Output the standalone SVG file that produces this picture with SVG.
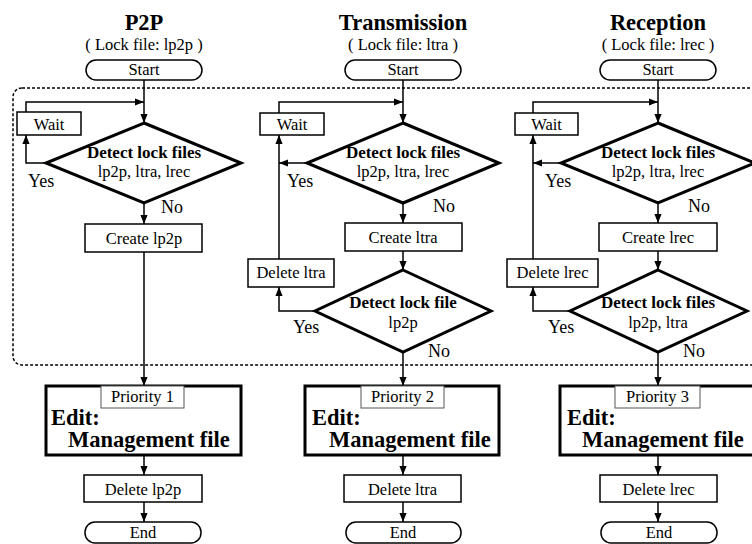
<svg xmlns="http://www.w3.org/2000/svg" width="752" height="544" viewBox="0 0 752 544" font-family="'Liberation Serif', 'Times New Roman', serif">
  <style>
    text { font-family: 'Liberation Serif', 'Times New Roman', serif; fill: #000; }
    .title { font-size: 22.5px; font-weight: bold; text-anchor: middle; }
    .sub { font-size: 16.5px; text-anchor: middle; }
    .lbl { font-size: 16.5px; text-anchor: middle; }
    .dt { font-size: 17px; font-weight: bold; text-anchor: middle; }
    .yn { font-size: 18px; }
    .big { font-size: 22.5px; font-weight: bold; }
    .term { fill: #fff; stroke: #000; stroke-width: 1.5; }
    .box { fill: #fff; stroke: #000; stroke-width: 1.5; }
    .dia { fill: #fff; stroke: #000; stroke-width: 3; stroke-linejoin: miter; }
    .edit { fill: #fff; stroke: #000; stroke-width: 3; }
    .prio { fill: #fff; stroke: #555; stroke-width: 1; }
    .conn path { fill: none; stroke: #000; stroke-width: 1.5; }
    .arr { marker-end: url(#arrow); }
  </style>
  <defs>
    <marker id="arrow" viewBox="0 0 10 8" refX="10" refY="4" markerWidth="9" markerHeight="8" markerUnits="userSpaceOnUse" orient="auto">
      <path d="M0,0 L10,4 L0,8 z" fill="#000"/>
    </marker>
  </defs>
  <rect width="752" height="544" fill="#fff"/>

  <!-- shared locking region -->
  <rect id="lock-region" x="13" y="88" width="800" height="277" rx="9" fill="none" stroke="#000" stroke-width="1.5" stroke-dasharray="3,2"/>

  <!-- column headings -->
  <g id="headings">
    <text class="title" x="144" y="30">P2P</text>
    <text class="sub" x="144" y="50">( Lock file: lp2p )</text>
    <text class="title" x="403" y="30">Transmission</text>
    <text class="sub" x="403" y="50">( Lock file: ltra )</text>
    <text class="title" x="658" y="30">Reception</text>
    <text class="sub" x="658" y="50">( Lock file: lrec )</text>
  </g>

  <!-- connectors -->
  <g id="connectors" class="conn">
    <!-- P2P -->
    <path class="arr" d="M144,80 V123"/>
    <path class="arr" d="M26,112 V102 H144"/>
    <path class="arr" d="M46,163 H26 V135"/>
    <path class="arr" d="M144,203 V224"/>
    <path class="arr" d="M144,252 V386"/>
    <path class="arr" d="M144,455 V475"/>
    <path class="arr" d="M144,502 V522"/>
    <!-- Transmission -->
    <path class="arr" d="M403,80 V123"/>
    <path class="arr" d="M279,113 V102 H403"/>
    <path class="arr" d="M307,163 H279"/>
    <path class="arr" d="M279,259 V135"/>
    <path class="arr" d="M403,203 V223"/>
    <path class="arr" d="M403,251 V270"/>
    <path class="arr" d="M315,311 H279 V287"/>
    <path class="arr" d="M403,352 V386"/>
    <path class="arr" d="M403,455 V475"/>
    <path class="arr" d="M403,502 V522"/>
    <!-- Reception -->
    <path class="arr" d="M658,80 V123"/>
    <path class="arr" d="M533,113 V102 H658"/>
    <path class="arr" d="M561,163 H533"/>
    <path class="arr" d="M533,259 V135"/>
    <path class="arr" d="M658,203 V223"/>
    <path class="arr" d="M658,251 V270"/>
    <path class="arr" d="M570,311 H533 V287"/>
    <path class="arr" d="M658,352 V386"/>
    <path class="arr" d="M658,455 V475"/>
    <path class="arr" d="M658,502 V522"/>
  </g>

  <!-- ===== P2P ===== -->
  <g id="p2p-start">
    <rect class="term" x="86" y="60" width="116" height="20" rx="10"/>
    <text class="lbl" x="144" y="75">Start</text>
  </g>
  <g id="p2p-wait">
    <rect class="box" x="17" y="112" width="64" height="23"/>
    <text class="lbl" x="49" y="130">Wait</text>
  </g>
  <g id="p2p-detect">
    <polygon class="dia" points="144,123 241,163 144,203 46,163"/>
    <text class="dt" x="144" y="158">Detect lock files</text>
    <text class="lbl" x="144" y="177">lp2p, ltra, lrec</text>
    <text class="yn" x="28" y="187">Yes</text>
    <text class="yn" x="161" y="213">No</text>
  </g>
  <g id="p2p-create">
    <rect class="box" x="85" y="224" width="117" height="28"/>
    <text class="lbl" x="144" y="244">Create lp2p</text>
  </g>
  <g id="p2p-edit">
    <rect class="edit" x="46" y="386" width="195" height="69"/>
    <rect class="prio" x="101" y="386" width="83" height="22"/>
    <text class="lbl" x="142.5" y="402">Priority 1</text>
    <text class="big" x="51" y="425">Edit:</text>
    <text class="big" x="68" y="447">Management file</text>
  </g>
  <g id="p2p-delete">
    <rect class="box" x="84" y="475" width="118" height="27"/>
    <text class="lbl" x="143" y="495">Delete lp2p</text>
  </g>
  <g id="p2p-end">
    <rect class="term" x="85" y="522" width="116" height="21" rx="10"/>
    <text class="lbl" x="143" y="538">End</text>
  </g>

  <!-- ===== Transmission ===== -->
  <g id="tra-start">
    <rect class="term" x="345" y="60" width="116" height="20" rx="10"/>
    <text class="lbl" x="403" y="75">Start</text>
  </g>
  <g id="tra-wait">
    <rect class="box" x="260" y="113" width="64" height="22"/>
    <text class="lbl" x="292" y="130">Wait</text>
  </g>
  <g id="tra-detect">
    <polygon class="dia" points="403,123 499,163 403,203 307,163"/>
    <text class="dt" x="403" y="158">Detect lock files</text>
    <text class="lbl" x="403" y="177">lp2p, ltra, lrec</text>
    <text class="yn" x="287" y="187">Yes</text>
    <text class="yn" x="433" y="212">No</text>
  </g>
  <g id="tra-create">
    <rect class="box" x="345" y="223" width="117" height="28"/>
    <text class="lbl" x="403" y="243">Create ltra</text>
  </g>
  <g id="tra-delete-lock">
    <rect class="box" x="248" y="259" width="86" height="28"/>
    <text class="lbl" x="291" y="278">Delete ltra</text>
  </g>
  <g id="tra-check">
    <polygon class="dia" points="403,270 491,311 403,352 315,311"/>
    <text class="dt" x="403" y="308">Detect lock file</text>
    <text class="lbl" x="403" y="328">lp2p</text>
    <text class="yn" x="293" y="333">Yes</text>
    <text class="yn" x="428" y="357">No</text>
  </g>
  <g id="tra-edit">
    <rect class="edit" x="305" y="386" width="194" height="69"/>
    <rect class="prio" x="361" y="386" width="83" height="22"/>
    <text class="lbl" x="402.5" y="402">Priority 2</text>
    <text class="big" x="312" y="425">Edit:</text>
    <text class="big" x="329" y="447">Management file</text>
  </g>
  <g id="tra-delete">
    <rect class="box" x="344" y="475" width="117" height="27"/>
    <text class="lbl" x="402.5" y="495">Delete ltra</text>
  </g>
  <g id="tra-end">
    <rect class="term" x="346" y="522" width="115" height="21" rx="10"/>
    <text class="lbl" x="403" y="538">End</text>
  </g>

  <!-- ===== Reception ===== -->
  <g id="rec-start">
    <rect class="term" x="600" y="60" width="116" height="20" rx="10"/>
    <text class="lbl" x="658" y="75">Start</text>
  </g>
  <g id="rec-wait">
    <rect class="box" x="515" y="113" width="63" height="22"/>
    <text class="lbl" x="546.5" y="130">Wait</text>
  </g>
  <g id="rec-detect">
    <polygon class="dia" points="658,123 755,163 658,203 561,163"/>
    <text class="dt" x="658" y="158">Detect lock files</text>
    <text class="lbl" x="658" y="177">lp2p, ltra, lrec</text>
    <text class="yn" x="545" y="187">Yes</text>
    <text class="yn" x="688" y="212">No</text>
  </g>
  <g id="rec-create">
    <rect class="box" x="599" y="223" width="118" height="28"/>
    <text class="lbl" x="658" y="243">Create lrec</text>
  </g>
  <g id="rec-delete-lock">
    <rect class="box" x="507" y="259" width="91" height="28"/>
    <text class="lbl" x="552.5" y="278">Delete lrec</text>
  </g>
  <g id="rec-check">
    <polygon class="dia" points="658,270 747,311 658,352 570,311"/>
    <text class="dt" x="658" y="308">Detect lock files</text>
    <text class="lbl" x="658" y="328">lp2p, ltra</text>
    <text class="yn" x="548" y="333">Yes</text>
    <text class="yn" x="683" y="357">No</text>
  </g>
  <g id="rec-edit">
    <rect class="edit" x="560" y="386" width="210" height="69"/>
    <rect class="prio" x="615" y="386" width="85" height="22"/>
    <text class="lbl" x="657.5" y="402">Priority 3</text>
    <text class="big" x="567" y="425">Edit:</text>
    <text class="big" x="582" y="447">Management file</text>
  </g>
  <g id="rec-delete">
    <rect class="box" x="600" y="475" width="117" height="27"/>
    <text class="lbl" x="658.5" y="495">Delete lrec</text>
  </g>
  <g id="rec-end">
    <rect class="term" x="601" y="522" width="116" height="21" rx="10"/>
    <text class="lbl" x="659" y="538">End</text>
  </g>
</svg>
